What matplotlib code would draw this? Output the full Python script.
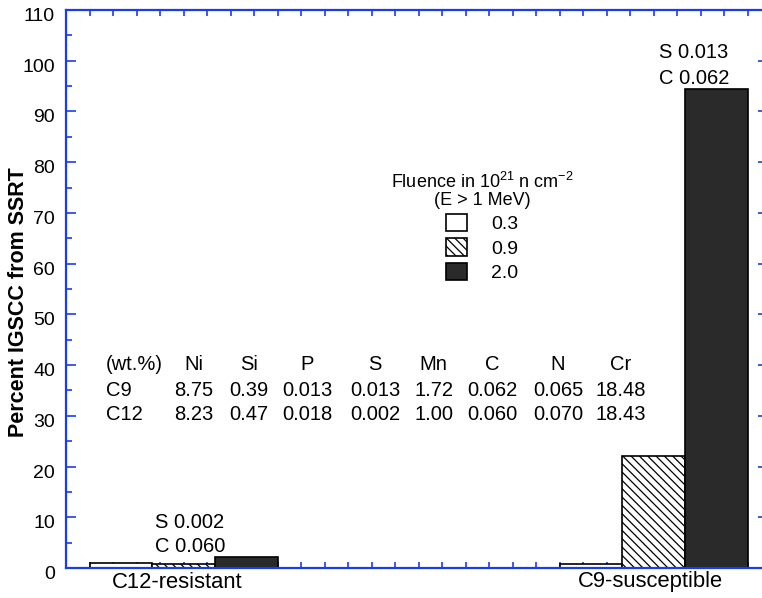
import matplotlib
matplotlib.use("Agg")
import matplotlib.pyplot as plt
import matplotlib.transforms as mtransforms
import numpy as np

plt.rcParams['font.family'] = ['Liberation Sans', 'DejaVu Sans']
plt.rcParams['mathtext.default'] = 'regular'
plt.rcParams['hatch.linewidth'] = 0.9

# ---- data ----
categories = ["C12-resistant", "C9-susceptible"]
fluences = ["0.3", "0.9", "2.0"]
igscc_c12 = [0.9, 0.7, 2.1]
igscc_c9 = [0.8, 22.0, 94.4]
note_c12 = ["S 0.002", "C 0.060"]
note_c9 = ["S 0.013", "C 0.062"]
table_header = ["(wt.%)", "Ni", "Si", "P", "S", "Mn", "C", "N", "Cr"]
table_c9 = ["C9", "8.75", "0.39", "0.013", "0.013", "1.72", "0.062", "0.065", "18.48"]
table_c12 = ["C12", "8.23", "0.47", "0.018", "0.002", "1.00", "0.060", "0.070", "18.43"]
yticks = list(range(0, 111, 10))

# ---- figure ----
W, H = 762, 598
fig = plt.figure(figsize=(W / 100, H / 100), dpi=100)
ax_left, ax_right, ax_top, ax_bot = 66, 768, 10, 568
ax = fig.add_axes([ax_left / W, (H - ax_bot) / H, (ax_right - ax_left) / W, (ax_bot - ax_top) / H])

blue = '#1a3de8'
xmax = (ax_right - ax_left) / 23.5
ax.set_xlim(0, xmax)
ax.set_ylim(0, 110)

group_start = [1, 21]
bw = 8 / 3
styles = [dict(facecolor='white', hatch=None),
          dict(facecolor='white', hatch='\\\\\\\\'),
          dict(facecolor='#2a2a2a', hatch=None)]
series = list(zip(igscc_c12, igscc_c9))
handles = []
for i, vals in enumerate(series):
    xs = [g + i * bw for g in group_start]
    b = ax.bar(xs, vals, width=bw, align='edge', edgecolor='black', linewidth=1.2,
               label=fluences[i], zorder=2, **styles[i])
    handles.append(b)

# spines and ticks
for s in ax.spines.values():
    s.set_color(blue)
    s.set_linewidth(1.6)
ax.set_yticks(yticks)
ax.set_yticks(np.arange(5, 110, 10), minor=True)
ax.set_xticks(np.arange(1, int(xmax) + 1, 1))
ax.tick_params(axis='both', which='both', direction='in', color=blue, width=1.2,
               top=True, right=True)
ax.tick_params(axis='y', which='major', length=7.5, labelsize=14, pad=8)
ax.tick_params(axis='y', which='minor', length=4.5)
ax.tick_params(axis='x', which='major', length=4.5, labelbottom=False)
ax.yaxis.set_ticklabels([str(v) for v in yticks])
off = mtransforms.ScaledTranslation(0, -4.5 / 100, fig.dpi_scale_trans)
for t in ax.yaxis.get_major_ticks():
    t.label1.set_transform(t.label1.get_transform() + off)

ax.set_ylabel("Percent IGSCC from SSRT", fontsize=15.5, fontweight='bold')
ax.yaxis.set_label_coords(-0.052, 0.477)

# pixel -> data helpers
def px(x):
    return (x - ax_left) / 23.5
def py(y):
    return (ax_bot - y) / (ax_bot - ax_top) * 110

# category labels
ax.text(px(177), py(582), categories[0], fontsize=15.8, ha='center', va='center', clip_on=False)
ax.text(px(650), py(582), categories[1], fontsize=15.8, ha='center', va='center', clip_on=False)

# annotations
for j, t in enumerate(note_c12):
    ax.text(px(155), py(522.5 + 24.5 * j), t, fontsize=14.5, ha='left', va='center')
for j, t in enumerate(note_c9):
    ax.text(px(659), py(53 + 25 * j), t, fontsize=14.5, ha='left', va='center')

# composition table
col_x = [194, 249, 307.5, 375, 433.5, 492, 558, 621]
for r, (row, yy) in enumerate(zip([table_header, table_c9, table_c12], [365, 390, 414])):
    ax.text(px(106), py(yy), row[0], fontsize=14.5, ha='left', va='center')
    for c, txt in enumerate(row[1:]):
        ax.text(px(col_x[c]), py(yy), txt, fontsize=14.5, ha='center', va='center')

# legend
leg = ax.legend(handles=handles, labels=fluences,
                title='Fluence in 10$^{21}$ n cm$^{-2}$\n(E > 1 MeV)',
                loc='center', bbox_to_anchor=((482 - ax_left) / (ax_right - ax_left),
                                              (ax_bot - 227) / (ax_bot - ax_top)),
                frameon=False, fontsize=14, title_fontsize=13,
                handlelength=1.1, handleheight=1.0, handletextpad=1.2,
                labelspacing=0.25, borderpad=0, borderaxespad=0)
leg.get_title().set_linespacing(1.0)
leg.get_title().set_multialignment('center')

fig.savefig("out.png", dpi=100)
